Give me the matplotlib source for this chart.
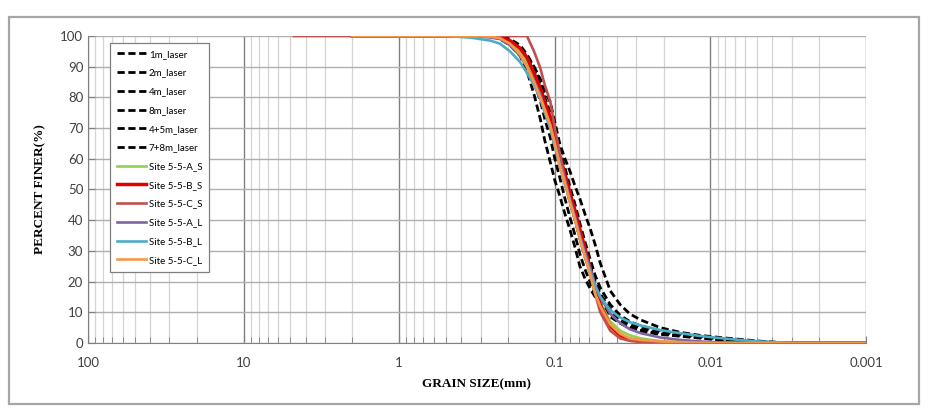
import matplotlib
matplotlib.use('Agg')
import matplotlib.pyplot as plt
from matplotlib.patches import Rectangle
from matplotlib.ticker import FixedLocator, NullFormatter

# grain sizes (mm)
size_laser = [0.35, 0.26, 0.225, 0.194, 0.167, 0.151, 0.136, 0.124, 0.116, 0.107,
              0.1, 0.093, 0.086, 0.080, 0.074, 0.069, 0.064, 0.059, 0.055, 0.051,
              0.044, 0.038, 0.033, 0.028, 0.021, 0.0157, 0.0117, 0.0087, 0.0065,
              0.0048, 0.0036, 0.0027]
size_site = [2.0, 1.0, 0.5] + size_laser + [0.001]
size_c_s = [4.75] + size_site

# percent finer, laser runs
laser_1m = [100, 100, 99, 97, 93.5, 88.6, 81, 73, 66, 59, 53, 48, 42, 37, 31, 25, 21,
            17.5, 15, 12.5, 8.5, 6.5, 4.8, 3.8, 2.8, 2.2, 1.6, 1.0, 0.6, 0.3, 0.1, 0]
laser_2m = [100, 100, 99.5, 98, 95.5, 92, 87, 82, 77, 71, 64, 58, 52, 46, 40, 34, 28,
            23, 18.5, 15, 10, 7, 5.2, 4.2, 3, 2.3, 1.7, 1.1, 0.6, 0.3, 0.1, 0]
laser_4m = [100, 100, 99.5, 98.5, 96, 93, 89, 84, 79, 73, 66, 60, 54, 48, 42, 36, 30,
            25, 20, 16, 11, 8, 6, 4.8, 3.4, 2.6, 1.9, 1.3, 0.7, 0.3, 0.1, 0]
laser_8m = [100, 100, 100, 99, 97, 94, 90, 85, 80, 75, 69, 63, 57, 51, 45, 39, 33,
            27, 22, 18, 12.5, 9, 7, 5.5, 4, 3, 2.2, 1.4, 0.8, 0.4, 0.1, 0]
laser_45m = [100, 100, 99, 97.5, 94.5, 90.5, 85, 79, 73, 67, 60, 54, 47, 41, 35, 29,
             24, 19.5, 16, 13, 9, 6.5, 5, 4, 3, 2.4, 1.8, 1.2, 0.7, 0.3, 0.1, 0]
laser_78m = [100, 100, 100, 98.5, 96, 93.5, 90, 86, 82, 78.5, 72, 65, 60, 56, 51, 47,
             42, 37, 32, 26, 17, 12.5, 9.5, 7.5, 5, 3.5, 2.5, 1.8, 1.2, 0.6, 0.2, 0]

# percent finer, site samples
site_a_s = [100, 100, 100, 100, 99.8, 99.5, 98, 95, 91.5, 87, 82, 77, 72, 66, 60, 54,
            47.5, 41, 35, 29, 23, 17.5, 13, 7, 4, 2.5, 1.5, 0.6, 0.2, 0, 0, 0, 0, 0,
            0, 0]
site_b_s = [100, 100, 100, 100, 100, 99.5, 98.5, 96, 93, 88, 83, 78.5, 73.5, 67, 61,
            55, 49, 43, 37, 31, 24, 18, 12.5, 5.5, 2.5, 1.2, 0.6, 0.1, 0, 0, 0, 0, 0,
            0, 0, 0]
site_c_s = [100, 100, 100, 100, 100, 100, 100, 100, 100, 100, 95, 89.6, 84, 78.8,
            70, 62, 53, 46, 40, 35, 28.5, 22, 16, 10, 4, 1.5, 0.7, 0.3, 0, 0, 0, 0, 0,
            0, 0, 0, 0]
site_a_l = [100, 100, 100, 100, 99.5, 99, 97, 93.5, 90, 85.5, 81, 76, 71, 65, 59, 53,
            47, 41, 35, 29.5, 24, 19, 15, 9.5, 6.5, 4.5, 3.2, 1.8, 1.0, 0.5, 0.2, 0,
            0, 0, 0, 0]
site_b_l = [100, 100, 100, 99.5, 98.5, 97.5, 95, 91.5, 88, 84, 79.5, 75, 70, 64, 58,
            52, 46, 40, 34, 28.5, 23, 18.5, 15, 10.7, 8.3, 6.8, 5.7, 4.2, 3.2, 2.3,
            1.6, 1.0, 0.5, 0.2, 0, 0]
site_c_l = [100, 100, 100, 100, 99.8, 99.3, 97.5, 94, 90, 85, 80, 76, 71, 65, 58, 52,
            46, 40, 34, 28, 22, 16, 12, 6, 3, 1.5, 1, 0.5, 0.3, 0.1, 0, 0, 0, 0, 0, 0]

x_ticks = [100, 10, 1, 0.1, 0.01, 0.001]
x_tick_labels = ['100', '10', '1', '0.1', '0.01', '0.001']
y_ticks = [0, 10, 20, 30, 40, 50, 60, 70, 80, 90, 100]

fig = plt.figure(figsize=(9.29, 4.15), dpi=100)
ax = fig.add_axes([88 / 929, 1 - 343 / 415, (866 - 88) / 929, (343 - 36) / 415])

# outer frame
fig.patches.append(Rectangle((9 / 929, 1 - 404 / 415), 910 / 929, 387 / 415,
                             transform=fig.transFigure, fill=False,
                             edgecolor='#a6a6a6', lw=1.6))

ax.set_xscale('log')
ax.set_xlim(100, 0.001)
ax.set_ylim(0, 100)

ax.xaxis.set_major_locator(FixedLocator(x_ticks))
ax.set_xticklabels(x_tick_labels)
ax.xaxis.set_minor_locator(FixedLocator(
    [m * 10.0 ** e for e in range(-3, 2) for m in range(2, 10)]))
ax.xaxis.set_minor_formatter(NullFormatter())
ax.set_yticks(y_ticks)

ax.grid(which='minor', axis='x', color='#d4d4d4', lw=0.9)
ax.grid(which='major', axis='x', color='#808080', lw=1.0)
ax.grid(which='major', axis='y', color='#b0b0b0', lw=1.0)
ax.set_axisbelow(True)

for s in ['top', 'right']:
    ax.spines[s].set_visible(False)
for s in ['left', 'bottom']:
    ax.spines[s].set_color('#808080')

ax.tick_params(which='both', direction='in', colors='#808080', labelcolor='#404040',
               labelsize=9.5)
ax.tick_params(which='major', length=5)
ax.tick_params(which='minor', length=4)
ax.tick_params(axis='x', pad=10)
for lab in ax.get_xticklabels() + ax.get_yticklabels():
    lab.set_family('Lato')

dash = dict(color='black', lw=2.0, dashes=(2.6, 1.3))
ax.plot(size_laser, laser_1m, label='1m_laser', **dash)
ax.plot(size_laser, laser_2m, label='2m_laser', **dash)
ax.plot(size_laser, laser_4m, label='4m_laser', **dash)
ax.plot(size_laser, laser_8m, label='8m_laser', **dash)
ax.plot(size_laser, laser_45m, label='4+5m_laser', **dash)
ax.plot(size_laser, laser_78m, label='7+8m_laser', **dash)

ax.plot(size_site, site_a_s, color='#92d050', lw=1.9, label='Site 5-5-A_S')
ax.plot(size_site, site_b_s, color='#e00000', lw=2.5, label='Site 5-5-B_S')
ax.plot(size_c_s, site_c_s, color='#c0504d', lw=1.9, label='Site 5-5-C_S')
ax.plot(size_site, site_a_l, color='#8064a2', lw=1.9, label='Site 5-5-A_L')
ax.plot(size_site, site_b_l, color='#4bacc6', lw=1.9, label='Site 5-5-B_L')
ax.plot(size_site, site_c_l, color='#f79646', lw=1.9, label='Site 5-5-C_L')

leg = ax.legend(loc='upper left', bbox_to_anchor=((110 - 88) / 778, 1 - (43 - 36) / 307),
                prop={'family': 'Lato', 'size': 7}, frameon=True,
                fancybox=False, edgecolor='#808080', framealpha=1,
                handlelength=3.0, handletextpad=0.3, labelspacing=1.0,
                borderpad=0.7, borderaxespad=0)
leg.get_frame().set_linewidth(0.9)

ax.set_xlabel('GRAIN SIZE(mm)', family='Liberation Serif', fontweight='bold',
              fontsize=9.5, labelpad=7)
ax.set_ylabel('PERCENT FINER(%)', family='Liberation Serif', fontweight='bold',
              fontsize=9.5, labelpad=10)

fig.savefig('out.png', dpi=100)
